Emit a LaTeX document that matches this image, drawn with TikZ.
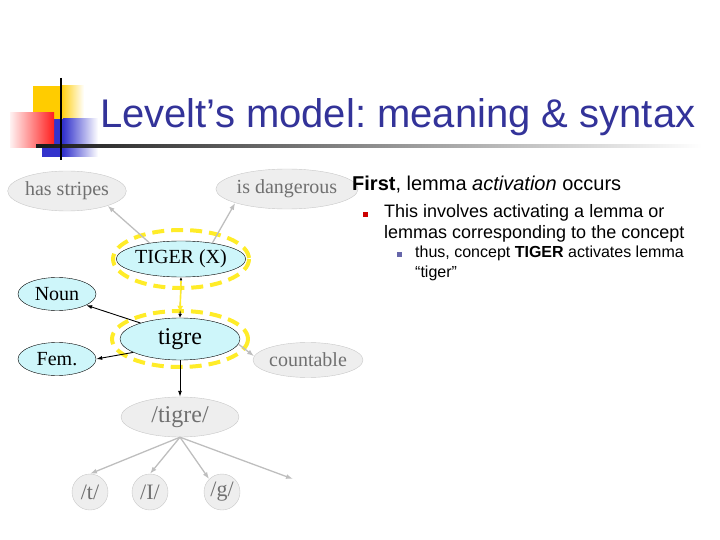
\documentclass[tikz,border=0pt]{standalone}
\usepackage{fontspec}
\setmainfont{Liberation Serif}
\setsansfont{Liberation Sans}
\usetikzlibrary{shapes.geometric,arrows.meta}
\frenchspacing

\definecolor{titleblue}{RGB}{51,51,153}
\definecolor{lemmacyan}{RGB}{206,246,250}
\definecolor{nodegray}{RGB}{238,238,238}
\definecolor{bordergray}{RGB}{200,200,200}
\definecolor{textgray}{RGB}{112,112,112}
\definecolor{edgegray}{RGB}{190,190,190}
\definecolor{glowyellow}{RGB}{255,236,40}
\definecolor{squareyellow}{RGB}{255,204,0}
\definecolor{squarered}{RGB}{255,30,30}
\definecolor{squareblue}{RGB}{51,51,204}
\definecolor{bulletred}{RGB}{204,0,0}
\definecolor{bulletblue}{RGB}{102,102,170}

\begin{document}
\begin{tikzpicture}[x=1pt,y=-1pt,
    nodefont/.style={font=\fontsize{20}{20}\selectfont},
    lemma/.style={ellipse,draw=black,fill=lemmacyan,inner sep=0pt,
        minimum width=120pt,minimum height=40pt,nodefont},
    feature/.style={ellipse,draw=black,fill=lemmacyan,inner sep=0pt,
        minimum width=78pt,minimum height=33pt,nodefont},
    faded/.style={ellipse,draw=bordergray,fill=nodegray,text=textgray,
        inner sep=0pt,minimum width=118pt,minimum height=40pt,nodefont},
    phoneme/.style={circle,draw=bordergray,fill=nodegray,text=textgray,
        inner sep=0pt,minimum size=36pt,font=\fontsize{22}{22}\selectfont},
    glow/.style={draw=glowyellow,line width=4pt,dash pattern=on 12pt off 7pt},
    syntax/.style={draw=black,line width=0.9pt,-{Latex[length=6pt,width=4pt]}},
    weak/.style={draw=edgegray,line width=1.3pt,-{Latex[length=7pt,width=5pt]}},
    bodytext/.style={anchor=base west,inner sep=0pt,font=\sffamily}]
    \useasboundingbox (0,0) rectangle (720,540);

    % Title decoration
    \fill[squareyellow] (33,86) rectangle (60,119);
    \shade[left color=squareyellow,right color=white] (60,86) rectangle (84,119);
    \fill[squareblue] (42,119) rectangle (63,157);
    \shade[left color=squareblue,right color=white] (63,119) rectangle (98,157);
    \shade[left color=red!5,right color=squarered] (10,113) rectangle (54,148);
    \shade[left color=black!90,right color=white] (36,144.5) rectangle (702,147.5);
    \draw[line width=2.5pt] (61,78) -- (61,160);
    \node[bodytext,text=titleblue,font=\sffamily\fontsize{40}{40}\selectfont]
        (title) at (100,128) {Levelt's model: meaning \& syntax};

    % Concept level
    \node[faded] (stripes) at (67,191) {has stripes};
    \node[faded] (dangerous) at (287,189) {is dangerous};
    \node[lemma,minimum height=36pt] (tiger) at (181,259) {TIGER (X)};
    \draw[glow] (tiger) ellipse [x radius=68, y radius=29];

    % Lemma level
    \node[lemma,minimum height=42pt,font=\fontsize{24}{24}\selectfont] (tigre) at (180,339) {tigre};
    \draw[glow] (tigre) ellipse [x radius=68, y radius=28];
    \node[feature] (noun) at (57,294) {Noun};
    \node[feature] (fem) at (57,359) {Fem.};
    \node[faded,minimum width=90pt,minimum height=35pt] (countable) at (308,360) {countable};

    % Form level
    \node[faded,font=\fontsize{24}{24}\selectfont] (form) at (180,417) {/tigre/};
    \node[phoneme] (t) at (90,492) {/t/};
    \node[phoneme] (I) at (150,492) {/I/};
    \node[phoneme] (g) at (222,492) {/g/};
    \coordinate (next) at (293,479);

    % Connections
    \draw[weak] (tiger.153) -- (stripes.-20);
    \draw[weak] (tiger.27) -- (dangerous.-165);
    \draw[black,line width=0.8pt,{Latex[length=3pt,width=3pt]}-{Latex[length=4pt,width=4pt]}]
        (tiger.south) -- (tigre.north);
    \draw[draw=glowyellow,line width=1.6pt,-{Latex[length=7pt,width=6pt]}]
        ([yshift=-4pt]tiger.south) -- ([yshift=5pt]tigre.north);
    \draw[syntax] (tigre.158) -- (noun.-21);
    \draw[syntax] (tigre.-164) -- (fem.east);
    \draw[weak] (tigre.-5) -- (countable.176);
    \draw[syntax] (tigre.south) -- (form.north);
    \draw[weak] (form.south) -- (t.north);
    \draw[weak] (form.south) -- (I.north);
    \draw[weak] (form.south) -- (g.135);
    \draw[weak] (form.south) -- (next);

    % Text
    \node[bodytext,font=\sffamily\fontsize{20}{20}\selectfont] (first) at (352,191)
        {\textbf{First}, lemma \textit{activation} occurs};
    \fill[bulletred] (362.5,212.5) rectangle (367.5,217.5);
    \node[bodytext,font=\sffamily\fontsize{18}{18}\selectfont] (involves) at (384,218)
        {This involves activating a lemma or};
    \node[bodytext,font=\sffamily\fontsize{18}{18}\selectfont] (lemmas) at (384,239)
        {lemmas corresponding to the concept};
    \fill[bulletblue] (397,252) rectangle (401.5,256.5);
    \node[bodytext,font=\sffamily\fontsize{16}{16}\selectfont] (thus) at (415,258)
        {thus, concept \textbf{TIGER} activates lemma};
    \node[bodytext,font=\sffamily\fontsize{16}{16}\selectfont] (quote) at (415,277)
        {``tiger''};
\end{tikzpicture}
\end{document}
